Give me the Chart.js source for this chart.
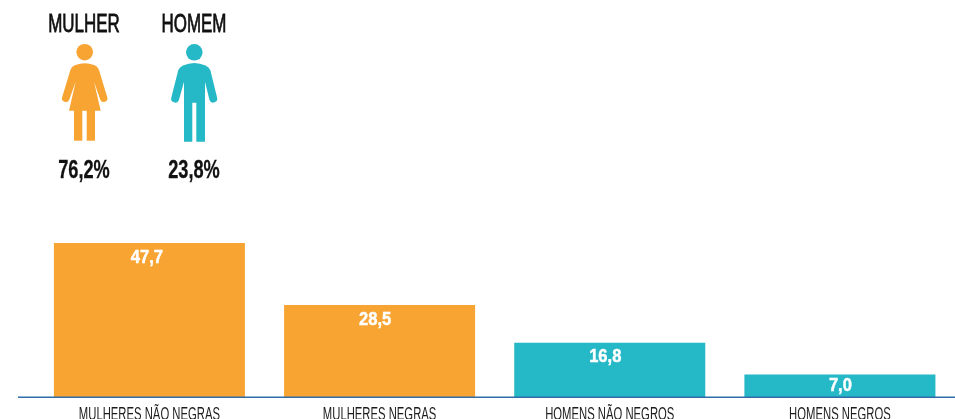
<!DOCTYPE html>
<html>
<head>
<meta charset="utf-8">
<title>Mulher / Homem</title>
<script src="https://cdn.jsdelivr.net/npm/chart.js@4"></script>
<style>
  html, body { margin: 0; padding: 0; background: #fff; overflow: hidden; }
  #wrap { position: relative; width: 955px; height: 419px; overflow: hidden; }
  #chart { position: absolute; left: 0; top: 0; }
  .head { position: absolute; width: 120px; text-align: center; color: #111; font-family: "Liberation Sans", sans-serif; white-space: nowrap; }
  .title { font-size: 26.5px; line-height: 26px; top: 10px; transform: scaleX(0.64); -webkit-text-stroke: 0.8px #111; }
  .pct { font-size: 26px; line-height: 26px; top: 155.5px; font-weight: 700; transform: scaleX(0.70); -webkit-text-stroke: 0.3px #111; }
  svg.icon { position: absolute; top: 43px; }
</style>
</head>
<body>
<div id="wrap">
  <canvas id="chart" width="955" height="419"></canvas>

  <div class="head title" style="left:24px">MULHER</div>
  <div class="head title" style="left:134px">HOMEM</div>
  <div class="head pct" style="left:24px">76,2%</div>
  <div class="head pct" style="left:133.5px">23,8%</div>

  <svg class="icon" style="left:60px" width="50" height="100" viewBox="0 0 50 100">
    <g fill="#F8A433">
      <circle cx="24.7" cy="9.2" r="8.3"/>
      <path d="M15.5 22 Q24.7 18.5 34 22 Q37.5 23 39 27 L47.2 54 A3.7 3.7 0 0 1 40.2 56.5 L34 38.7 L40.7 67.7 L9 67.7 L15.7 38.7 L9.3 56.5 A3.7 3.7 0 0 1 2.2 54 L10.4 27 Q12 23 15.5 22 Z"/>
      <rect x="14" y="67" width="8.3" height="30.7"/>
      <rect x="26.7" y="67" width="8.3" height="30.7"/>
    </g>
  </svg>
  <svg class="icon" style="left:169px" width="50" height="100" viewBox="0 0 50 100">
    <g fill="#25B8C6">
      <circle cx="25.3" cy="9.3" r="8.3"/>
      <path d="M14 22.5 Q25.3 17.5 36.6 22.5 Q40 24 41.3 27 L48 54.3 A3.8 3.8 0 0 1 40.4 56.8 L36 38.7 L36 98.7 L27.3 98.7 L27.3 59.7 L23.3 59.7 L23.3 98.7 L15 98.7 L15 38.7 L10 56.8 A3.8 3.8 0 0 1 2.4 54.3 L9.3 27 Q10.6 24 14 22.5 Z"/>
    </g>
  </svg>
</div>

<script>
const categories = ['MULHERES NÃO NEGRAS', 'MULHERES NEGRAS', 'HOMENS NÃO NEGROS', 'HOMENS NEGROS'];
const values = [47.7, 28.5, 16.8, 7.0];
const barColors = ['#F8A433', '#F8A433', '#25B8C6', '#25B8C6'];

// No condensed font is installed, so squeeze the text horizontally
function squeezedText(ctx, text, x, y, sx, stroke) {
  ctx.save();
  ctx.translate(x, y);
  ctx.scale(sx, 1);
  if (stroke) ctx.strokeText(text, 0, 0);
  ctx.fillText(text, 0, 0);
  ctx.restore();
}

// The value labels are not quite centred on their bars in the original
const labelShift = [-2.5, -4.5, -4.5, 0.5];

// White value labels inside the bars, with a comma as decimal mark
const valueLabels = {
  id: 'valueLabels',
  afterDatasetsDraw(chart) {
    const ctx = chart.ctx;
    ctx.save();
    ctx.fillStyle = '#fff';
    ctx.strokeStyle = '#fff';
    ctx.lineWidth = 0.5;
    ctx.font = '700 19px "Liberation Sans", sans-serif';
    ctx.textAlign = 'center';
    ctx.textBaseline = 'middle';
    chart.getDatasetMeta(0).data.forEach((bar, i) => {
      const off = Math.min(14.5, (bar.base - bar.y) / 2);
      squeezedText(ctx, values[i].toFixed(1).replace('.', ','), bar.x + labelShift[i], bar.y + off, 0.87, true);
    });
    ctx.restore();
  }
};

// Category labels and the baseline, which runs further left than the plot area
const axisDecor = {
  id: 'axisDecor',
  afterDatasetsDraw(chart) {
    const ctx = chart.ctx;
    const y = chart.scales.y.getPixelForValue(0) + 0.2;
    ctx.save();
    ctx.strokeStyle = '#2F6CA8';
    ctx.lineWidth = 1.4;
    ctx.beginPath();
    ctx.moveTo(18, y);
    ctx.lineTo(955, y);
    ctx.stroke();

    ctx.fillStyle = '#1c1c1c';
    ctx.font = '18px "Liberation Sans", sans-serif';
    ctx.textAlign = 'center';
    ctx.textBaseline = 'alphabetic';
    categories.forEach((c, i) => {
      squeezedText(ctx, c, chart.scales.x.getPixelForTick(i), 419.5, 0.627, false);
    });
    ctx.restore();
  }
};

new Chart(document.getElementById('chart').getContext('2d'), {
  type: 'bar',
  data: {
    labels: categories,
    datasets: [{ data: values, backgroundColor: barColors, borderWidth: 0, barPercentage: 0.83, categoryPercentage: 1 }]
  },
  options: {
    responsive: false,
    animation: false,
    layout: { padding: { left: 34.33, right: -0.67, top: 9.4, bottom: 0 } },
    plugins: { legend: { display: false }, tooltip: { enabled: false } },
    scales: {
      x: {
        afterFit(scale) { scale.height = 22; },
        grid: { display: false, drawTicks: false },
        border: { display: false },
        ticks: { display: false }
      },
      y: { display: false, min: 0, max: 120 }
    }
  },
  plugins: [valueLabels, axisDecor]
});
</script>
</body>
</html>
